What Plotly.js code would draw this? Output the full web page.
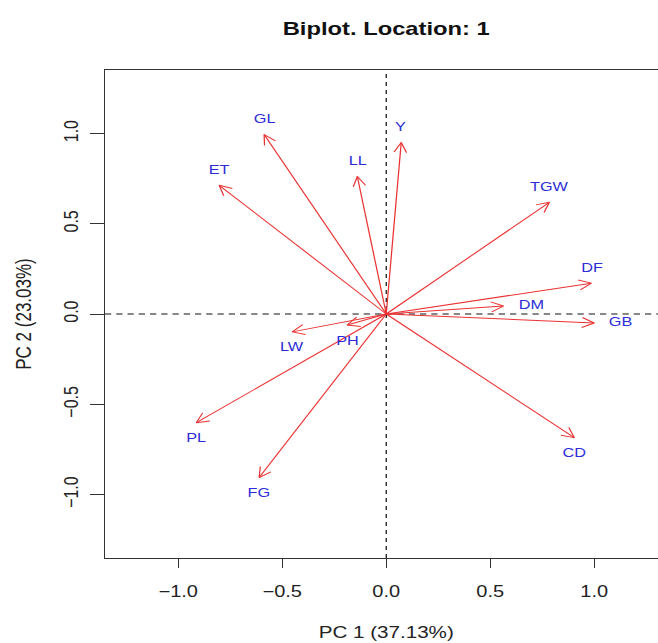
<!DOCTYPE html>
<html><head><meta charset="utf-8">
<script src="https://cdn.plot.ly/plotly-3.0.1.min.js"></script>
<style>
html,body{margin:0;padding:0;overflow:hidden;background:#fff;width:658px;height:643px}
#plot{width:544px;height:643px;transform:scaleX(1.25);transform-origin:0 0}
</style>
</head><body><div id="plot"></div>
<script>
// ---- data ----
const variables = ['Y','GL','ET','LL','TGW','DF','DM','GB','CD','LW','PH','PL','FG'];
const pc1 = [0.072,-0.587,-0.803,-0.139,0.784,0.986,0.563,1.000,0.904,-0.452,-0.188,-0.913,-0.611];
const pc2 = [0.950,0.994,0.713,0.762,0.619,0.171,0.044,-0.050,-0.685,-0.099,-0.061,-0.602,-0.906];
const labelSide = ['top','top','top','top','top','top','right','right','bottom','bottom','bottom','bottom','bottom'];
const tickVals = [-1,-0.5,0,0.5,1];
const tickText = ['\u22121.0','\u22120.5','0.0','0.5','1.0'];
const chartTitle = 'Biplot. Location: 1';
const xTitle = 'PC 1 (37.13%)';
const yTitle = 'PC 2 (23.03%)';

// ---- layout geometry (the reference image is horizontally stretched, so the page is too) ----
const W = 544, H = 643;
const M = {l:84, r:10, t:70, b:85, pad:0};
const xRange = [-1.352, 1.352], yRange = [-1.352, 1.352];
const kx = (W - M.l - M.r) / (xRange[1] - xRange[0]);
const ky = (H - M.t - M.b) / (yRange[1] - yRange[0]);
const headLen = 11, headAng = 27 * Math.PI / 180;
const FONT = 'Liberation Sans, Arial, Helvetica, sans-serif';
const arrowColor = 'rgb(235,50,50)';
const labelColor = 'rgb(45,45,215)';

// shafts + open heads
const ax = [], ay = [];
for (let i = 0; i < variables.length; i++) {
  const x = pc1[i], y = pc2[i];
  ax.push(0, x, null); ay.push(0, y, null);
  const th = Math.atan2(y * ky, x * kx);
  const h1x = x - headLen * Math.cos(th - headAng) / kx;
  const h1y = y - headLen * Math.sin(th - headAng) / ky;
  const h2x = x - headLen * Math.cos(th + headAng) / kx;
  const h2y = y - headLen * Math.sin(th + headAng) / ky;
  ax.push(h1x, x, h2x, null); ay.push(h1y, y, h2y, null);
}
const arrows = {
  type: 'scatter', mode: 'lines', x: ax, y: ay, hoverinfo: 'skip',
  line: {color: arrowColor, width: 1}, showlegend: false
};

const annotations = variables.map((v, i) => {
  const side = labelSide[i];
  const a = {x: pc1[i], y: pc2[i], xref: 'x', yref: 'y', text: v, showarrow: false,
    font: {family: FONT, size: 13, color: labelColor}, xanchor: 'center', yanchor: 'middle'};
  if (side === 'top') a.yshift = 16;
  else if (side === 'bottom') a.yshift = -15;
  else { a.xanchor = 'left'; a.xshift = 10; a.yshift = 2; }
  return a;
});

const axisCommon = {
  showgrid: false, zeroline: false, showline: true, mirror: true,
  linecolor: '#333', linewidth: 1, ticks: 'outside', tickcolor: '#333', tickwidth: 1,
  tickvals: tickVals, ticktext: tickText, fixedrange: true,
  tickfont: {family: FONT, size: 16, color: '#222'}
};

const layout = {
  width: W, height: H, margin: M,
  paper_bgcolor: '#fff', plot_bgcolor: '#fff',
  title: {text: chartTitle, font: {family: FONT, size: 19, color: '#111', weight: 'bold'},
    x: 0.5, xref: 'paper', y: 1 - 28 / H, yref: 'container', yanchor: 'middle'},
  xaxis: Object.assign({}, axisCommon, {range: xRange, ticklen: 9, ticklabelstandoff: 10,
    title: {text: xTitle, font: {family: FONT, size: 16.5, color: '#222'}, standoff: 27}}),
  yaxis: Object.assign({}, axisCommon, {range: yRange, ticklen: 11, tickangle: -90, ticklabelstandoff: 3,
    title: {text: yTitle, font: {family: FONT, size: 17, color: '#222'}, standoff: 18}}),
  shapes: [
    {type: 'line', xref: 'x', yref: 'paper', x0: 0, x1: 0, y0: 0, y1: 1,
      line: {color: '#111', width: 1, dash: '4px,4px'}, layer: 'below'},
    {type: 'line', xref: 'paper', yref: 'y', x0: 0, x1: 1, y0: 0, y1: 0,
      line: {color: '#111', width: 1, dash: '5px,4px'}, layer: 'below'}
  ],
  annotations: annotations,
  showlegend: false
};

Plotly.newPlot('plot', [arrows], layout, {displayModeBar: false, staticPlot: true});
</script>
</body></html>
